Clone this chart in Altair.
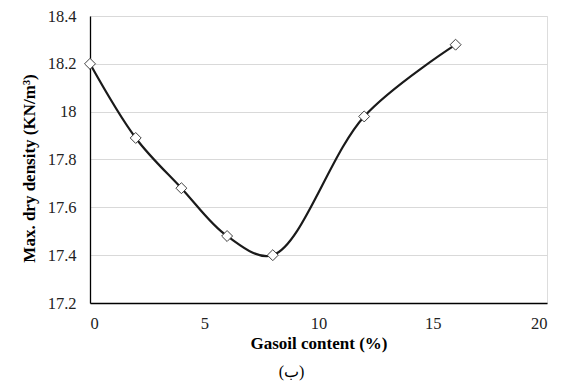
import altair as alt
import pandas as pd

gasoil = [0, 2, 4, 6, 8, 12, 16]
density = [18.20, 17.89, 17.68, 17.48, 17.40, 17.98, 18.28]
y_ticks = [17.2, 17.4, 17.6, 17.8, 18.0, 18.2, 18.4]
x_ticks = [0, 5, 10, 15, 20]

df = pd.DataFrame({"x": gasoil, "y": density})

font = "Liberation Serif"

x_enc = alt.X("x:Q", scale=alt.Scale(domain=[0, 20], nice=False),
              axis=alt.Axis(values=x_ticks, title="Gasoil content (%)", grid=False))
y_enc = alt.Y("y:Q", scale=alt.Scale(domain=[17.2, 18.4], nice=False, zero=False),
              axis=alt.Axis(values=y_ticks, format=".1~f", title="Max. dry density (KN/m³)",
                            grid=True, titleY=152))

line = alt.Chart(df).mark_line(interpolate="catmull-rom", color="#1a1a1a", strokeWidth=2.2).encode(
    x=x_enc, y=y_enc)
points = alt.Chart(df).mark_point(shape="diamond", filled=True, fill="white", stroke="#404040",
                                  strokeWidth=1, size=120, opacity=1).encode(x=x_enc, y=y_enc)

chart = (line + points).properties(
    width=457, height=287,
    title=alt.TitleParams("(ب)", orient="bottom", anchor="middle", font=font, fontSize=16,
                          fontWeight="normal", color="#000000", dx=-27, offset=12),
    padding={"left": 90, "top": 16, "right": 15, "bottom": 80},
    autosize="none",
).configure_view(stroke=None).configure(background="white", font=font).configure_axis(
    labelFont=font, labelFontSize=16.5, labelColor="#222222",
    titleFont=font, titleFontSize=17, titleFontWeight="bold", titleColor="#000000",
    ticks=False, domainColor="#000000", domainWidth=1.3,
    gridColor="#d9d9d9", gridWidth=1,
).configure_axisX(labelPadding=12, titlePadding=4).configure_axisY(
    labelPadding=14, titlePadding=9)

chart.save("out.html", embed_options={"renderer": "svg", "actions": False})
